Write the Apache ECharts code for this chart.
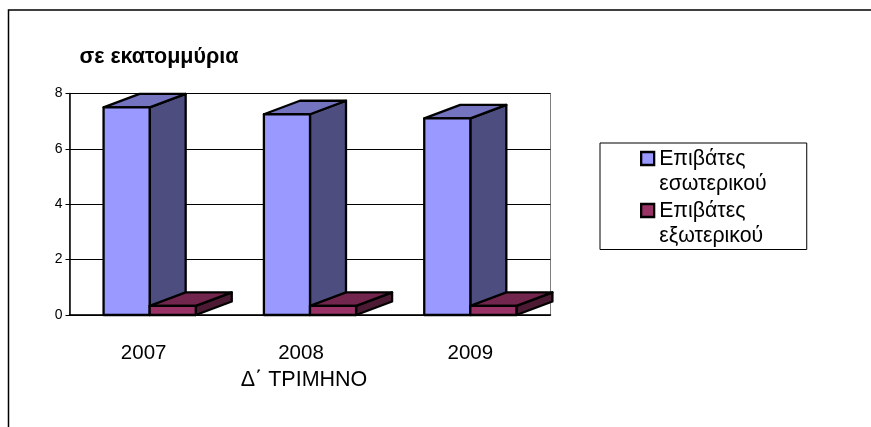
<!DOCTYPE html>
<html><head><meta charset="utf-8">
<style>html,body{margin:0;padding:0;background:#fff}#c{width:871px;height:427px}</style>
<script src="https://cdn.jsdelivr.net/npm/echarts@6/dist/echarts.min.js"></script>
</head><body><div id="c"></div>
<script>
const categories = ['2007', '2008', '2009'];
const domestic = [7.5, 7.25, 7.1];
const foreign = [0.33, 0.33, 0.33];
const yTicks = [0, 2, 4, 6, 8];
const labelShift = [12, 18, 0];
const FONT = '"Liberation Sans", Arial, sans-serif';
const DEPTH_X = 36, DEPTH_Y = 13.5;

function box(colors, side) {
  return function (params, api) {
    const p = api.coord([api.value(0), api.value(1)]);
    const base = api.coord([api.value(0), 0]);
    const w = api.size([1, 0])[0] * 0.2875;
    const x0 = side < 0 ? p[0] - w : p[0];
    const x1 = x0 + w, yt = p[1], yb = base[1];
    const line = { stroke: '#000', lineWidth: 2.3, lineJoin: 'round' };
    const poly = (pts, fill) => ({ type: 'polygon', shape: { points: pts }, style: Object.assign({ fill }, line) });
    return { type: 'group', children: [
      poly([[x1, yt], [x1 + DEPTH_X, yt - DEPTH_Y], [x1 + DEPTH_X, yb - DEPTH_Y], [x1, yb]], colors[2]),
      poly([[x0, yt], [x0 + DEPTH_X, yt - DEPTH_Y], [x1 + DEPTH_X, yt - DEPTH_Y], [x1, yt]], colors[1]),
      poly([[x0, yt], [x1, yt], [x1, yb], [x0, yb]], colors[0])
    ] };
  };
}
const chart = echarts.init(document.getElementById('c'), null, { renderer: 'canvas' });
chart.setOption({
  animation: false,
  backgroundColor: '#fff',
  graphic: [{ type: 'rect', silent: true, z: -1,
    shape: { x: 8.5, y: 10, width: 880, height: 440 },
    style: { fill: 'none', stroke: '#000', lineWidth: 1.5 } }],
  title: { text: 'σε εκατομμύρια', left: 79.5, top: 46, padding: 0,
    textStyle: { fontFamily: FONT, fontSize: 21.5, fontWeight: 'bold', color: '#000' } },
  legend: {
    left: 600, top: 143, orient: 'vertical', align: 'left',
    padding: [3, 40, 0.5, 40], itemGap: 1, itemWidth: 13, itemHeight: 39,
    borderColor: '#000', borderWidth: 1, backgroundColor: '#fff',
    icon: 'path://M0 0H13V13H0Z M0 39L0 39',
    itemStyle: { borderColor: '#000', borderWidth: 2.3 },
    textStyle: { fontFamily: FONT, fontSize: 21.3, color: '#000', lineHeight: 25.5 },
    formatter: n => n.replace(' ', '\n')
  },
  grid: { left: 69.5, top: 93.5, width: 481, height: 221.5, show: true, borderColor: '#808080', borderWidth: 1, backgroundColor: 'transparent' },
  xAxis: {
    type: 'category',
    data: categories.map((c, i) => ({ value: c, textStyle: { padding: [0, labelShift[i], 0, 0] } })),
    name: 'Δ΄ ΤΡΙΜΗΝΟ', nameLocation: 'middle', nameGap: 54,
    nameTextStyle: { fontFamily: FONT, fontSize: 21.5, color: '#000', padding: [0, 12, 0, 0] },
    axisLine: { lineStyle: { color: '#000', width: 1.5 } },
    axisTick: { show: false },
    axisLabel: { fontFamily: FONT, fontSize: 20.5, color: '#000', margin: 28 },
    splitLine: { show: false }
  },
  yAxis: {
    type: 'value', min: yTicks[0], max: yTicks[yTicks.length - 1], interval: 2,
    axisLine: { show: true, lineStyle: { color: '#000', width: 1.5 } },
    axisTick: { show: true, length: 4, lineStyle: { color: '#000' } },
    axisLabel: { fontFamily: FONT, fontSize: 14, color: '#000', margin: 7 },
    splitLine: { show: true, lineStyle: { color: '#000', width: 1 } }
  },
  series: [
    { name: 'Επιβάτες εσωτερικού', type: 'custom', silent: true, z: 3,
      itemStyle: { color: '#9999ff' },
      renderItem: box(['#9999ff', '#7373bf', '#4d4d80'], -1),
      data: categories.map((c, i) => [i, domestic[i]]), encode: { x: 0, y: 1 } },
    { name: 'Επιβάτες εξωτερικού', type: 'custom', silent: true, z: 4,
      itemStyle: { color: '#993366' },
      renderItem: box(['#993366', '#73264d', '#4d1a33'], 1),
      data: categories.map((c, i) => [i, foreign[i]]), encode: { x: 0, y: 1 } }
  ]
});
</script></body></html>
